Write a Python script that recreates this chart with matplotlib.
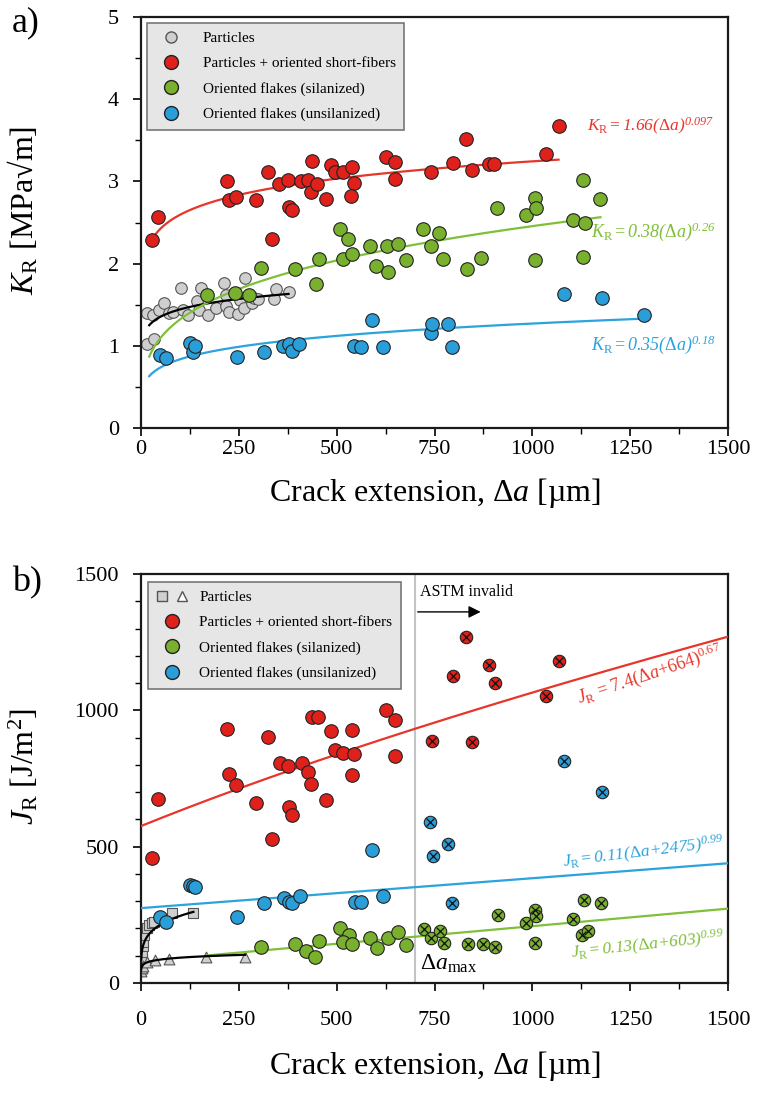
import matplotlib
matplotlib.use('Agg')
import matplotlib.pyplot as plt
import numpy as np
from matplotlib.legend_handler import HandlerTuple
from matplotlib.lines import Line2D
from matplotlib.ticker import MultipleLocator

plt.rcParams['font.family'] = ['Liberation Serif', 'DejaVu Serif']
plt.rcParams['mathtext.fontset'] = 'custom'
plt.rcParams['mathtext.rm'] = 'Liberation Serif'
plt.rcParams['mathtext.it'] = 'Liberation Serif:italic'
plt.rcParams['mathtext.sf'] = 'Liberation Serif:italic'
plt.rcParams['mathtext.bf'] = 'Liberation Serif:bold'

# ---------------- Panel a data (K_R) ----------------
particles_a_x = [16, 30, 16, 33, 46, 60, 72, 83, 102, 107, 121, 144, 147, 154, 172, 192, 212, 218, 218, 226,
                 249, 253, 262, 266, 283, 288, 298, 339, 345, 377]
particles_a_y = [1.40, 1.38, 1.02, 1.08, 1.44, 1.52, 1.40, 1.41, 1.70, 1.44, 1.38, 1.54, 1.43, 1.70, 1.38, 1.46,
                 1.77, 1.62, 1.48, 1.41, 1.39, 1.56, 1.46, 1.82, 1.52, 1.58, 1.57, 1.57, 1.69, 1.65]
red_a_x = [27, 43, 221, 224, 243, 294, 324, 334, 353, 375, 377, 387, 410, 428, 438, 435, 451, 474, 486, 497,
           517, 539, 545, 537, 625, 648, 649, 742, 796, 831, 845, 888, 902, 1035, 1067]
red_a_y = [2.29, 2.57, 3.01, 2.77, 2.81, 2.77, 3.12, 2.30, 2.97, 3.02, 2.69, 2.65, 3.00, 3.02, 3.25, 2.87, 2.97,
           2.78, 3.20, 3.12, 3.12, 3.17, 2.98, 2.82, 3.30, 3.23, 3.03, 3.12, 3.22, 3.52, 3.14, 3.21, 3.21, 3.33, 3.68]
green_a_x = [168, 239, 276, 307, 394, 448, 456, 508, 528, 516, 538, 586, 601, 629, 631, 657, 678, 721, 740, 761,
             772, 834, 868, 909, 983, 1006, 1009, 1006, 1103, 1134, 1129, 1129, 1174]
green_a_y = [1.62, 1.64, 1.62, 1.95, 1.94, 1.75, 2.06, 2.42, 2.30, 2.06, 2.12, 2.21, 1.97, 2.21, 1.90, 2.24, 2.04,
             2.42, 2.22, 2.37, 2.05, 1.94, 2.07, 2.68, 2.59, 2.80, 2.68, 2.04, 2.53, 2.50, 3.02, 2.08, 2.79]
blue_a_x = [49, 64, 124, 132, 138, 245, 315, 364, 377, 386, 405, 544, 563, 591, 618, 740, 744, 784, 795, 1080,
            1179, 1286]
blue_a_y = [0.89, 0.85, 1.03, 0.93, 1.00, 0.86, 0.92, 1.00, 1.02, 0.94, 1.02, 1.00, 0.99, 1.31, 0.99, 1.16, 1.26,
            1.27, 0.99, 1.63, 1.58, 1.37]

# power-law fits K = A * da^B  (A, B, x-start, x-end)
fit_particles_a = (0.945, 0.092, 21, 377)
fit_red_a = (1.66, 0.097, 27, 1067)
fit_green_a = (0.383, 0.269, 21, 1174)
fit_blue_a = (0.3625, 0.1816, 21, 1286)

# ---------------- Panel b data (J_R) ----------------
squares_b_x = [1, 2, 3, 4, 6, 8, 15, 20, 27, 32, 80, 134]
squares_b_y = [55, 85, 115, 135, 151, 176, 200, 212, 219, 225, 255, 258]
triangles_b_x = [1, 3, 6, 15, 36, 72, 166, 266]
triangles_b_y = [45, 55, 62, 78, 84, 87, 96, 96]
red_b_x = [221, 324, 437, 452, 486, 539, 625, 648, 648, 497, 516, 545, 354, 375, 411, 428, 435, 224, 243, 44,
           294, 377, 386, 474, 538, 334, 28]
red_b_y = [930, 901, 977, 977, 924, 928, 1001, 964, 833, 854, 845, 839, 806, 796, 808, 773, 730, 766, 726, 675,
           659, 647, 616, 671, 763, 527, 459]
red_b_inv_x = [831, 888, 798, 904, 1068, 1036, 744, 847]
red_b_inv_y = [1270, 1166, 1126, 1099, 1182, 1054, 889, 883]
green_b_x = [307, 394, 422, 445, 456, 509, 531, 516, 539, 586, 602, 631, 657, 678]
green_b_y = [132, 144, 117, 97, 154, 203, 176, 151, 142, 164, 127, 164, 188, 139]
green_b_inv_x = [723, 742, 765, 774, 835, 874, 904, 911, 983, 1006, 1010, 1006, 1104, 1131, 1128, 1143, 1175]
green_b_inv_y = [198, 166, 192, 145, 142, 142, 133, 249, 221, 268, 246, 146, 235, 304, 176, 192, 292]
blue_b_x = [49, 64, 124, 132, 138, 245, 315, 366, 379, 386, 407, 546, 563, 591, 618]
blue_b_y = [243, 225, 359, 356, 353, 243, 292, 311, 298, 292, 319, 298, 296, 488, 319]
blue_b_inv_x = [738, 746, 785, 795, 1179, 1080]
blue_b_inv_y = [592, 467, 510, 295, 702, 815]

# J = A * (da + C)^B   (A, C, B, x-start, x-end)
fit_red_b = (7.4, 664, 0.67, 0, 1500)
fit_blue_b = (0.12, 2475, 0.99, 0, 1500)
fit_green_b = (0.14, 603, 0.99, 168, 1500)
# particle fits J = A*da^B
fit_squares_b = (98, 0.2, 0.5, 134)
fit_triangles_b = (56, 0.11, 0.3, 266)

da_max = 700

# ---------------- styles ----------------
C_RED = '#e0201b'
C_GREEN = '#79b02e'
C_BLUE = '#2a9ed8'
C_GREY = '#cfcfcf'
L_RED = '#e8352a'
L_GREEN = '#7fbf3a'
L_BLUE = '#2ba3dc'
EDGE = '#222222'

fig = plt.figure(figsize=(7.6, 10.95), dpi=100)
ax1 = fig.add_axes([141 / 760, 1 - 428 / 1095, 587 / 760, 411 / 1095])
ax2 = fig.add_axes([141 / 760, 1 - 983 / 1095, 587 / 760, 409 / 1095])

S_BIG = 95
S_SMALL = 70


def style_axes(ax, xpad):
    for sp in ax.spines.values():
        sp.set_linewidth(1.6)
        sp.set_color('#1a1a1a')
    ax.tick_params(axis='both', which='major', direction='out', length=6, width=1.2,
                   labelsize=16, top=False, right=False)
    ax.tick_params(axis='y', which='major', pad=10)
    ax.tick_params(axis='x', which='major', pad=xpad)
    ax.tick_params(axis='both', which='minor', direction='out', length=4, width=1.0,
                   top=False, right=False)
    ax.set_xlim(0, 1500)
    ax.xaxis.set_major_locator(MultipleLocator(250))
    ax.xaxis.set_minor_locator(MultipleLocator(125))


def power_curve(ax, p, color, z=3):
    A, B, x0, x1 = p
    xx = np.linspace(x0, x1, 300)
    ax.plot(xx, A * xx ** B, color=color, lw=1.6, zorder=z)


# ---------------- Panel a ----------------
style_axes(ax1, 3)
ax1.set_ylim(0, 5)
ax1.yaxis.set_major_locator(MultipleLocator(1))
ax1.yaxis.set_minor_locator(MultipleLocator(0.5))

ax1.scatter(particles_a_x, particles_a_y, s=S_SMALL, c=C_GREY, edgecolors='#555555', linewidths=0.8, zorder=2)

power_curve(ax1, fit_particles_a, 'black')
power_curve(ax1, fit_green_a, L_GREEN)
power_curve(ax1, fit_blue_a, L_BLUE)
power_curve(ax1, fit_red_a, L_RED)
ax1.scatter(green_a_x, green_a_y, s=S_BIG, c=C_GREEN, edgecolors=EDGE, linewidths=0.8, zorder=4)
ax1.scatter(blue_a_x, blue_a_y, s=S_BIG, c=C_BLUE, edgecolors=EDGE, linewidths=0.8, zorder=4)
ax1.scatter(red_a_x, red_a_y, s=S_BIG, c=C_RED, edgecolors=EDGE, linewidths=0.8, zorder=4)

ax1.text(1464, 3.67, r'$K_\mathrm{R} = \mathsf{1.66(}\Delta a\mathsf{)}^{\mathsf{0.097}}$', color=L_RED,
         fontsize=12.5, ha='right', va='center')
ax1.text(1468, 2.39, r'$K_\mathrm{R} = \mathsf{0.38(}\Delta a\mathsf{)}^{\mathsf{0.26}}$', color=L_GREEN,
         fontsize=13, ha='right', va='center')
ax1.text(1468, 1.01, r'$K_\mathrm{R} = \mathsf{0.35(}\Delta a\mathsf{)}^{\mathsf{0.18}}$', color=L_BLUE,
         fontsize=13, ha='right', va='center')

ax1.set_xlabel(r'Crack extension, Δ$a$ [µm]', fontsize=23, labelpad=12)
ax1.set_ylabel(r'$K_\mathrm{R}$ [MPa√m]', fontsize=23)
ax1.yaxis.set_label_coords(-0.172, 0.53)

h_grey = Line2D([], [], marker='o', ls='none', markersize=8, markerfacecolor=C_GREY, markeredgecolor='#555555')
h_red = Line2D([], [], marker='o', ls='none', markersize=10, markerfacecolor=C_RED, markeredgecolor=EDGE)
h_green = Line2D([], [], marker='o', ls='none', markersize=10, markerfacecolor=C_GREEN, markeredgecolor=EDGE)
h_blue = Line2D([], [], marker='o', ls='none', markersize=10, markerfacecolor=C_BLUE, markeredgecolor=EDGE)
labels = ['Particles', 'Particles + oriented short-fibers', 'Oriented flakes (silanized)',
          'Oriented flakes (unsilanized)']

leg1 = ax1.legend([h_grey, h_red, h_green, h_blue], labels, loc='upper left', bbox_to_anchor=(0.01, 0.985),
                  borderaxespad=0, fontsize=11, frameon=True, fancybox=False, framealpha=1,
                  facecolor='#e6e6e6', edgecolor='#777777', handlelength=2.0, handletextpad=1.1,
                  labelspacing=0.75, borderpad=0.55)
leg1.get_frame().set_linewidth(1.2)

fig.text(12 / 760, 1 - 23 / 1095, 'a)', fontsize=26, va='center', ha='left')

# ---------------- Panel b ----------------
style_axes(ax2, 14)
ax2.set_ylim(0, 1500)
ax2.yaxis.set_major_locator(MultipleLocator(500))
ax2.yaxis.set_minor_locator(MultipleLocator(100))

ax2.axvline(da_max, color='#c4c4c4', lw=1.5, zorder=1)


def shifted_curve(ax, p, color):
    A, C, B, x0, x1 = p
    xx = np.linspace(x0, x1, 300)
    ax.plot(xx, A * (xx + C) ** B, color=color, lw=1.6, zorder=3)


shifted_curve(ax2, fit_red_b, L_RED)
shifted_curve(ax2, fit_blue_b, L_BLUE)
shifted_curve(ax2, fit_green_b, L_GREEN)
power_curve(ax2, fit_squares_b, 'black')
power_curve(ax2, fit_triangles_b, 'black')

ax2.scatter(squares_b_x, squares_b_y, s=55, marker='s', c=C_GREY, edgecolors='#555555', linewidths=0.8, zorder=2)
ax2.scatter(triangles_b_x, triangles_b_y, s=60, marker='^', c=C_GREY, edgecolors='#555555', linewidths=0.8,
            zorder=2)

for xs, ys, col in [(red_b_x, red_b_y, C_RED), (green_b_x, green_b_y, C_GREEN), (blue_b_x, blue_b_y, C_BLUE)]:
    ax2.scatter(xs, ys, s=S_BIG, c=col, edgecolors=EDGE, linewidths=0.8, zorder=4)

for xs, ys, col in [(red_b_inv_x, red_b_inv_y, C_RED), (green_b_inv_x, green_b_inv_y, C_GREEN),
                    (blue_b_inv_x, blue_b_inv_y, C_BLUE)]:
    ax2.scatter(xs, ys, s=80, c=col, edgecolors=EDGE, linewidths=0.8, zorder=4)
    ax2.scatter(xs, ys, s=32, marker='x', c='#111111', linewidths=0.9, zorder=5)

ax2.text(1300, 1133, r'$J_\mathrm{R}$ = 7.4(Δ$a$+664)$^{0.67}$', color=L_RED, fontsize=13,
         rotation=18.5, ha='center', va='center', rotation_mode='anchor')
ax2.text(1285, 479, r'$J_\mathrm{R} = \mathsf{0.11(}\Delta a\mathsf{+2475)}^{\mathsf{0.99}}$', color=L_BLUE,
         fontsize=12.5, rotation=7, ha='center', va='center', rotation_mode='anchor')
ax2.text(1295, 137, r'$J_\mathrm{R} = \mathsf{0.13(}\Delta a\mathsf{+603)}^{\mathsf{0.99}}$', color=L_GREEN,
         fontsize=12.5, rotation=6, ha='center', va='center', rotation_mode='anchor')

ax2.text(712, 1435, 'ASTM invalid', fontsize=11.5, ha='left', va='center')
ax2.annotate('', xy=(875, 1361), xytext=(700, 1361),
             arrowprops=dict(arrowstyle='-|>', color='black', lw=1.0, mutation_scale=18), zorder=5)
ax2.text(712, 70, r'Δ$a_\mathrm{max}$', fontsize=17, ha='left', va='center')

ax2.set_xlabel(r'Crack extension, Δ$a$ [µm]', fontsize=23, labelpad=14)
ax2.set_ylabel(r'$J_\mathrm{R}$ [J/m$^2$]', fontsize=23)
ax2.yaxis.set_label_coords(-0.172, 0.53)

h_sq = Line2D([], [], marker='s', ls='none', markersize=7, markerfacecolor=C_GREY, markeredgecolor='#555555')
h_tr = Line2D([], [], marker='^', ls='none', markersize=7.5, markerfacecolor='white', markeredgecolor='#555555')
leg2 = ax2.legend([(h_sq, h_tr), h_red, h_green, h_blue], labels, loc='upper left',
                  bbox_to_anchor=(0.012, 0.98), borderaxespad=0, fontsize=11, frameon=True, fancybox=False,
                  framealpha=1, facecolor='#e6e6e6', edgecolor='#777777', handlelength=2.0,
                  handletextpad=0.8, labelspacing=0.75, borderpad=0.55,
                  handler_map={tuple: HandlerTuple(ndivide=None, pad=0.6)})
leg2.get_frame().set_linewidth(1.2)

fig.text(12 / 760, 1 - 583 / 1095, 'b)', fontsize=26, va='center', ha='left')

fig.savefig('out.png', dpi=100)
